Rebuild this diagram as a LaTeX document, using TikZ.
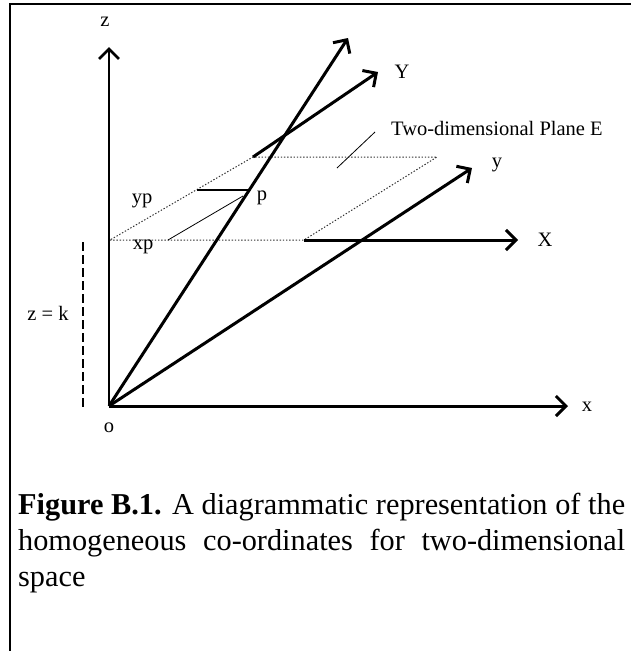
\documentclass[tikz,border=0pt]{standalone}
\usepackage{fontspec}
\setmainfont{Liberation Serif}
\usetikzlibrary{arrows.meta}
\begin{document}
\begin{tikzpicture}[x=1pt,y=-1pt,
  axis/.style={line width=3pt, -{Straight Barb[length=10pt,width=20pt,line width=3pt]}},
  zaxis/.style={line width=2.4pt, -{Straight Barb[length=10pt,width=20pt,line width=2.8pt]}},
  dotline/.style={line width=1pt, dash pattern=on 1.4pt off 1.8pt, black!80},
  thinline/.style={line width=0.8pt},
  lbl/.style={font=\fontsize{20.5}{24}\selectfont, inner sep=0pt},
  frame/.style={line width=2.2pt}]
\useasboundingbox (0,0) rectangle (631,651);
% frame
\coordinate (FTL) at (10,4);
\coordinate (FTR) at (631,4);
\coordinate (FBL) at (10,651);
\draw[frame] (FBL) -- (FTL) -- (FTR);
% key points
\coordinate (O) at (109,406);
\coordinate (Ztip) at (109,47);
\coordinate (Xtip) at (568,406);
\coordinate (PA) at (110,240);
\coordinate (PB) at (304,240);
\coordinate (PC) at (437,157);
\coordinate (PD) at (253,157);
\coordinate (XXtip) at (518,240);
\coordinate (YYtip) at (378,72);
\coordinate (Ltip) at (348,38);
\coordinate (ytip) at (472,168);
\coordinate (K1) at (83,242);
\coordinate (K2) at (83,407);
\coordinate (YP1) at (197,190);
\coordinate (YP2) at (248,190);
\coordinate (XP1) at (168,240);
\coordinate (XP2) at (243,196);
\coordinate (E1) at (337,168);
\coordinate (E2) at (375,132);
% plane
\draw[dotline] (PA) -- (PB) -- (PC) -- (PD) -- cycle;
% axes
\draw[zaxis] (O) -- (Ztip);
\draw[axis] (O) -- (Xtip);
\draw[axis] (PB) -- (XXtip);
\draw[axis] (PD) -- (YYtip);
\draw[axis] (O) -- (Ltip);
\draw[axis] (O) -- (ytip);
% dashed z=k
\draw[line width=1.1pt, dash pattern=on 9pt off 4pt] (K1) -- (K2);
% p construction
\draw[line width=1.4pt] (YP1) -- (YP2);
\draw[thinline] (XP1) -- (XP2);
\draw[thinline] (E1) -- (E2);
% labels
\node[lbl] (lz) at (105,22) {z};
\node[lbl] (lx) at (587,407) {x};
\node[lbl] (lo) at (109,428) {o};
\node[lbl] (lX) at (545,240) {X};
\node[lbl] (lY) at (402,72) {Y};
\node[lbl] (ly) at (497,165) {y};
\node[lbl] (lp) at (262,198) {p};
\node[lbl] (lyp) at (142,201) {yp};
\node[lbl] (lxp) at (143,247) {xp};
\node[lbl] (lk) at (48,313) {z = k};
\node[lbl, anchor=west] (lE) at (391,128) {Two-dimensional Plane E};
% caption
\node[anchor=north west, text width=607pt, align=justify, inner sep=0pt,
      font=\fontsize{30.3}{36}\selectfont] (cap) at (18,493)
  {\textbf{Figure B.1.} A diagrammatic representation of the\linebreak
   homogeneous co-ordinates for two-dimensional\linebreak space};
\end{tikzpicture}
\end{document}
